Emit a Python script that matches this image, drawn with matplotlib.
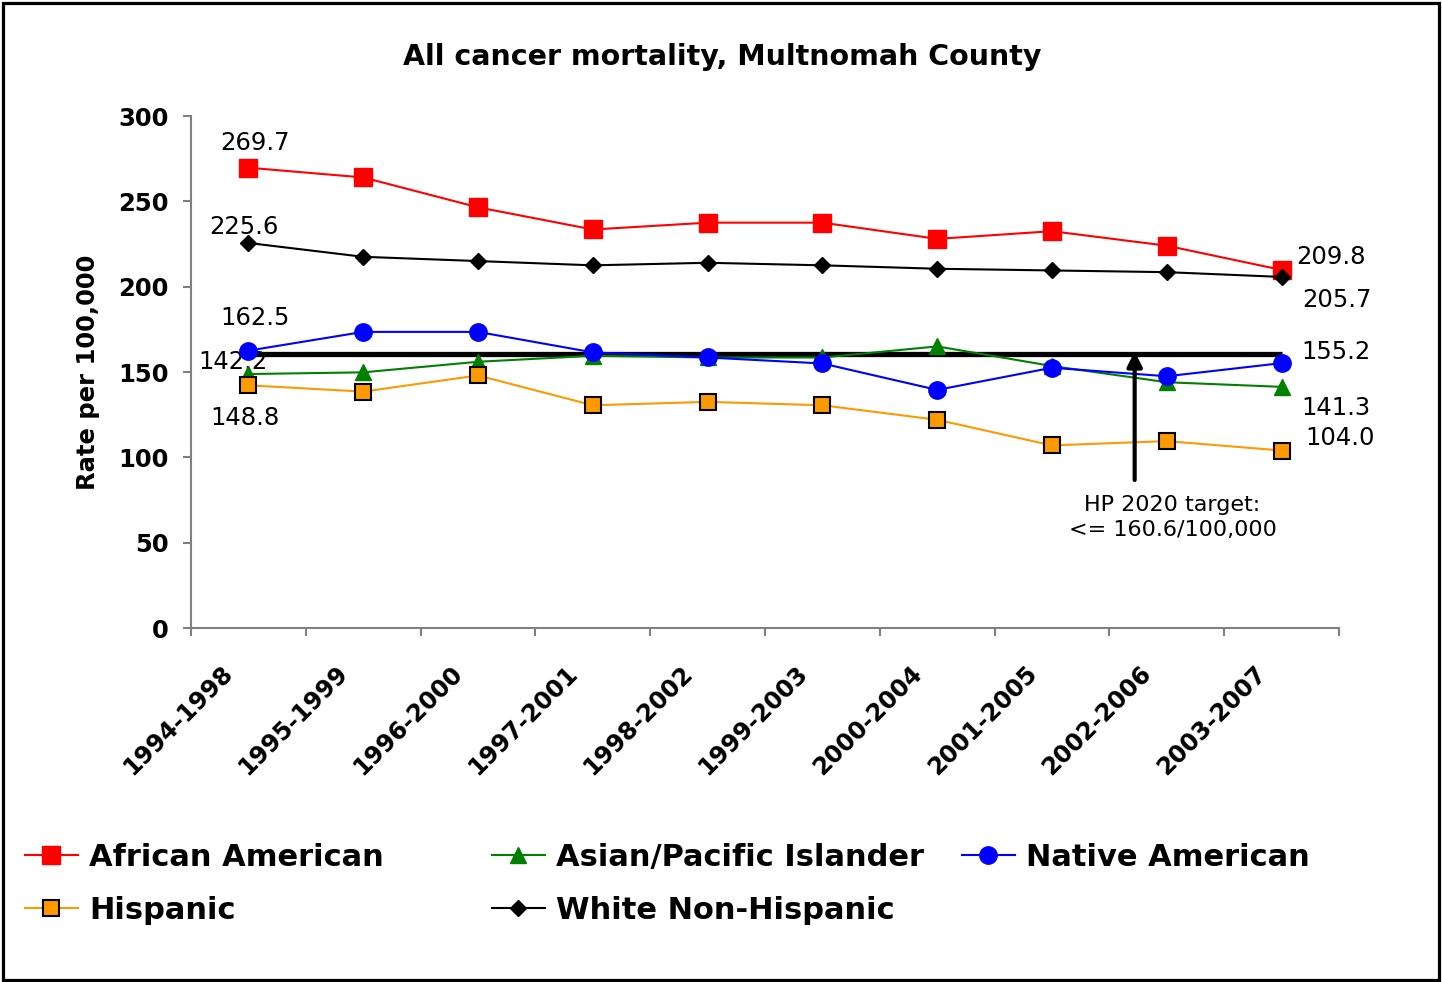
import matplotlib
matplotlib.use("Agg")
import matplotlib.pyplot as plt
from matplotlib.patches import Rectangle
import matplotlib.transforms as mtransforms

periods = ["1994-1998", "1995-1999", "1996-2000", "1997-2001", "1998-2002",
           "1999-2003", "2000-2004", "2001-2005", "2002-2006", "2003-2007"]
african_american = [269.7, 264.0, 246.5, 233.5, 237.5, 237.5, 228.0, 232.5, 224.0, 209.8]
asian_pacific = [148.8, 149.8, 156.0, 159.5, 158.5, 158.5, 165.0, 153.5, 144.0, 141.3]
native_american = [162.5, 173.5, 173.5, 161.5, 158.5, 155.0, 139.5, 152.5, 147.5, 155.2]
hispanic = [142.2, 138.5, 148.0, 130.5, 132.5, 130.5, 122.0, 107.0, 109.5, 104.0]
white_nh = [225.6, 217.5, 215.0, 212.5, 214.0, 212.5, 210.5, 209.5, 208.5, 205.7]
hp2020_target = 160.6
y_ticks = [0, 50, 100, 150, 200, 250, 300]

plt.rcParams['font.family'] = ['DejaVu Sans']

fig = plt.figure(figsize=(14.42, 9.82), dpi=100)
ax = fig.add_axes([191/1442, 1-628/982, (1339-191)/1442, (628-116)/982])

x = list(range(len(periods)))

ax.hlines(hp2020_target, x[0], x[-1], color='black', lw=3.8, zorder=1.5)

l_aa, = ax.plot(x, african_american, color='#FF0000', lw=1.5, marker='s', ms=12.5,
                mfc='#FF0000', mec='#FF0000', zorder=3, label='African American')
l_as, = ax.plot(x, asian_pacific, color='#008000', lw=1.5, marker='^', ms=11.5,
                mfc='#008000', mec='#008000', zorder=3, label='Asian/Pacific Islander')
l_na, = ax.plot(x, native_american, color='#0000FF', lw=1.5, marker='o', ms=12.5,
                mfc='#0000FF', mec='#0000FF', zorder=3, label='Native American')
l_hi, = ax.plot(x, hispanic, color='#FF9900', lw=1.5, marker='s', ms=11.5,
                mfc='#FF9900', mec='black', mew=1.5, zorder=3, label='Hispanic')
l_wh, = ax.plot(x, white_nh, color='black', lw=1.5, marker='D', ms=8,
                mfc='black', mec='black', zorder=3, label='White Non-Hispanic')

ax.set_xlim(-0.5, len(periods) - 0.5)
ax.set_ylim(0, 300)
ax.set_yticks(y_ticks)
ax.set_yticklabels([str(v) for v in y_ticks], fontsize=17.5, fontweight='bold')
ax.set_xticks(x)
ax.set_xticklabels(periods, fontsize=17.3, fontweight='bold', rotation=45,
                   ha='right', va='center', rotation_mode='anchor')
ax.set_xticks([i - 0.5 for i in range(len(periods) + 1)], minor=True)
ax.tick_params(axis='x', which='major', length=0, pad=30)
ax.tick_params(axis='x', which='minor', length=6, width=1.5, color='#808080', direction='out')
ax.tick_params(axis='y', length=6, width=1.5, color='#808080', direction='out', pad=10)

offset = mtransforms.ScaledTranslation(-19/100, 0, fig.dpi_scale_trans)
for lab in ax.get_xticklabels():
    lab.set_transform(lab.get_transform() + offset)

for s in ['top', 'right']:
    ax.spines[s].set_visible(False)
for s in ['left', 'bottom']:
    ax.spines[s].set_color('#808080')
    ax.spines[s].set_linewidth(1.5)

ax.set_ylabel('Rate per 100,000', fontsize=17.5, fontweight='bold')
ax.yaxis.set_label_coords(-0.079, 0.5)

fig.text(722/1442, 1-57/982, 'All cancer mortality, Multnomah County',
         ha='center', va='center', fontsize=20.5, fontweight='bold')

lab_fs = 17.5
def lbl(xv, yv, val):
    ax.text(xv, yv, f"{val:.1f}", ha='center', va='center', fontsize=lab_fs, zorder=2)

lbl(0.057, 284.2, african_american[0])
lbl(-0.038, 235.0, white_nh[0])
lbl(0.057, 181.6, native_american[0])
lbl(-0.134, 155.9, hispanic[0])
lbl(-0.03, 123.0, asian_pacific[0])
lbl(9.43, 217.4, african_american[-1])
lbl(9.48, 192.2, white_nh[-1])
lbl(9.47, 161.7, native_american[-1])
lbl(9.47, 128.9, asian_pacific[-1])
lbl(9.51, 111.3, hispanic[-1])

ax.annotate('', xy=(7.72, hp2020_target + 1.5), xytext=(7.72, 86.7),
            arrowprops=dict(arrowstyle='-|>,head_length=0.9,head_width=0.45',
                            color='black', lw=3, shrinkA=0, shrinkB=0),
            zorder=4)
ax.text(8.05, 64.8, f'HP 2020 target:\n<= {hp2020_target}/100,000', ha='center', va='center',
        fontsize=16, linespacing=1.33)

leg_kw = dict(loc='upper left', frameon=False,
              prop={'weight': 'bold', 'size': 22}, handlelength=1.73,
              handletextpad=0.36, labelspacing=0.78, borderpad=0, borderaxespad=0)
leg_y = 1 - 843/982
fig.legend(handles=[l_aa, l_hi], bbox_to_anchor=(25/1442, leg_y), **leg_kw)
fig.legend(handles=[l_as, l_wh], bbox_to_anchor=(492/1442, leg_y), **leg_kw)
fig.legend(handles=[l_na], bbox_to_anchor=(962/1442, leg_y), **leg_kw)

fig.patches.append(Rectangle((2.5/1442, 2.5/982), 1436/1442, 977/982, transform=fig.transFigure,
                             fill=False, edgecolor='black', lw=2.3))

fig.savefig('out.png', dpi=100)
